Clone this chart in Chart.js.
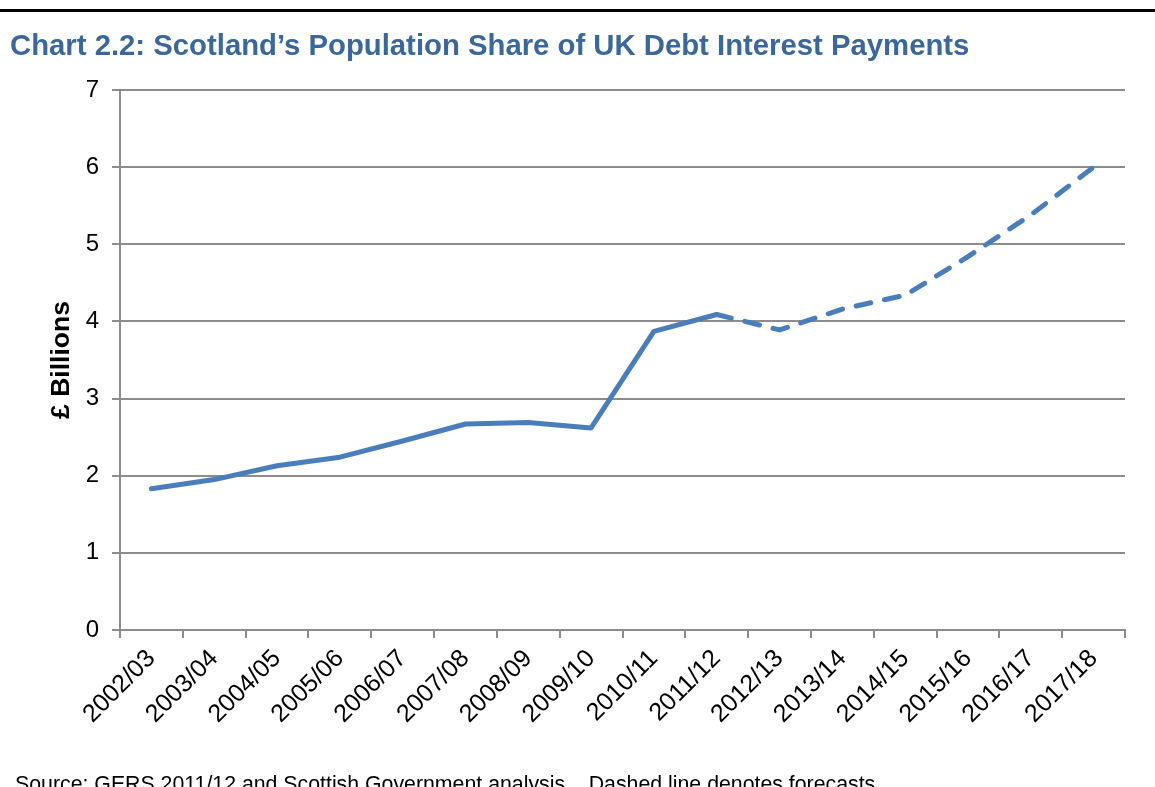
<!DOCTYPE html>
<html>
<head>
<meta charset="utf-8">
<script src="https://cdn.jsdelivr.net/npm/chart.js@4"></script>
<style>
  html, body { margin: 0; padding: 0; background: #fff; overflow: hidden; }
  body { width: 1155px; height: 787px; position: relative; font-family: "Liberation Sans", Arial, sans-serif; }
  #rule { position: absolute; left: 0; top: 9px; width: 1155px; height: 3px; background: #000; }
  #title { position: absolute; left: 10px; top: 30px; font-weight: bold; font-size: 29.3px; line-height: 29px; color: #3b6799; white-space: nowrap; }
  #source { position: absolute; left: 15px; top: 774px; font-size: 21.3px; line-height: 21px; color: #000; white-space: pre; }
  #wrap { position: absolute; left: 0; top: 0; width: 1155px; height: 787px; }
</style>
</head>
<body>
<div id="rule"></div>
<div id="wrap"><canvas id="chart"></canvas></div>
<div id="title">Chart 2.2: Scotland’s Population Share of UK Debt Interest Payments</div>
<div id="source">Source: GERS 2011/12 and Scottish Government analysis .  Dashed line denotes forecasts</div>
<script>
document.addEventListener('DOMContentLoaded', () => {
    // data
    const years = ['2002/03', '2003/04', '2004/05', '2005/06', '2006/07', '2007/08', '2008/09', '2009/10',
                   '2010/11', '2011/12', '2012/13', '2013/14', '2014/15', '2015/16', '2016/17', '2017/18'];
    const interest = [1.83, 1.95, 2.13, 2.24, 2.45, 2.67, 2.69, 2.62,
                      3.87, 4.09, 3.89, 4.16, 4.34, 4.84, 5.38, 6.0];
    const firstForecast = 9; // dashed from 2011/12 onwards
    const yTicks = [0, 1, 2, 3, 4, 5, 6, 7];

    const gray = '#8c8c8c';
    const blue = '#4a7ebb';
    const font = "'Liberation Sans', Arial, sans-serif";

    const ctx = document.getElementById('chart').getContext('2d');
    new Chart(ctx, {
        type: 'line',
        data: {
            labels: years,
            datasets: [{
                data: interest,
                borderColor: blue,
                borderWidth: 5,
                borderCapStyle: 'round',
                borderJoinStyle: 'round',
                pointRadius: 0,
                tension: 0,
                fill: false,
                segment: {
                    borderDash: c => c.p0DataIndex >= firstForecast ? [15, 14] : undefined
                }
            }]
        },
        options: {
            responsive: true,
            maintainAspectRatio: false,
            animation: false,
            layout: { padding: { top: 90, right: 30, left: 0, bottom: 0 } },
            plugins: {
                legend: { display: false },
                tooltip: { enabled: false }
            },
            scales: {
                x: {
                    offset: true,
                    afterFit: s => { s.height = 157; },
                    grid: { offset: true, drawOnChartArea: false, drawTicks: true, tickLength: 8, color: gray, lineWidth: 2 },
                    border: { color: gray, width: 2 },
                    ticks: {
                        color: '#000',
                        font: { family: font, size: 25 },
                        minRotation: 45,
                        maxRotation: 45,
                        autoSkip: false,
                        padding: 6
                    }
                },
                y: {
                    min: 0,
                    max: 7,
                    afterFit: s => { s.width = 120; },
                    afterBuildTicks: s => { s.ticks = yTicks.map(v => ({ value: v })); },
                    grid: { color: gray, lineWidth: 2, tickLength: 8 },
                    border: { color: gray, width: 2 },
                    ticks: {
                        color: '#000',
                        font: { family: font, size: 24 },
                        padding: 13
                    },
                    title: {
                        display: true,
                        text: '£ Billions',
                        color: '#000',
                        font: { family: font, size: 26.5, weight: 'bold' },
                        padding: { top: 46, bottom: 0 }
                    }
                }
            }
        }
    });
});
</script>
</body>
</html>
